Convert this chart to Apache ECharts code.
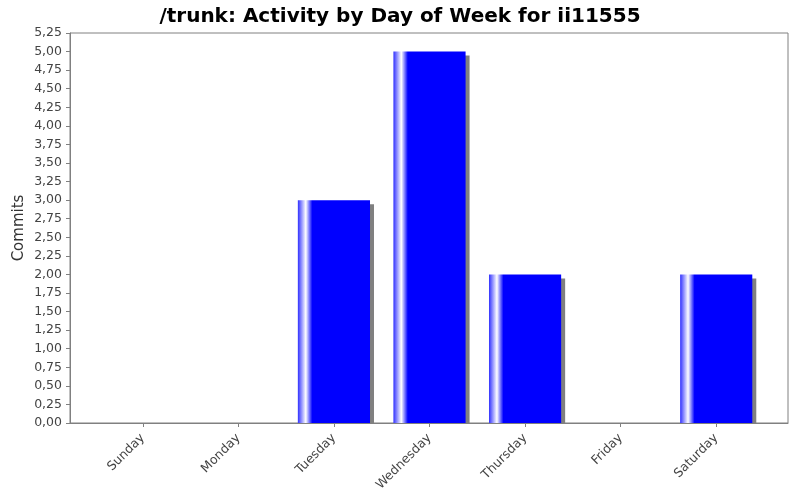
<!DOCTYPE html>
<html>
<head>
<meta charset="utf-8">
<script src="https://cdn.jsdelivr.net/npm/echarts@6/dist/echarts.min.js"></script>
<style>html,body{margin:0;padding:0;background:#fff}#c{width:800px;height:500px}</style>
</head>
<body>
<div id="c"></div>
<script>
var titleText = '/trunk: Activity by Day of Week for ii11555';
var yAxisName = 'Commits';
var categories = ['Sunday', 'Monday', 'Tuesday', 'Wednesday', 'Thursday', 'Friday', 'Saturday'];
var commits = [0, 0, 3, 5, 2, 0, 2];
var yMin = 0, yMax = 5.25, yStep = 0.25;

var chart = echarts.init(document.getElementById('c'), null, {renderer: 'canvas'});
var font = 'DejaVu Sans';
var barGrad = new echarts.graphic.LinearGradient(0, 0, 1, 0, [
  {offset: 0, color: '#3030ff'},
  {offset: 0.11, color: '#ffffff'},
  {offset: 0.2, color: '#0000ff'},
  {offset: 1, color: '#0000ff'}
]);
function renderBar(params, api) {
  var v = api.value(1);
  if (!v) return null;
  var top = api.coord([api.value(0), v]);
  var base = api.coord([api.value(0), 0]);
  var bw = api.size([1, 0])[0] * 0.755;
  var x = top[0] - bw / 2;
  var h = base[1] - top[1];
  return {
    type: 'group',
    children: [
      {type: 'rect', shape: {x: x + 4, y: top[1] + 4, width: bw, height: h - 4}, style: {fill: '#808080'}},
      {type: 'rect', shape: {x: x, y: top[1], width: bw, height: h}, style: {fill: barGrad}}
    ]
  };
}
chart.setOption({
  animation: false,
  backgroundColor: '#ffffff',
  title: {
    text: titleText, left: 'center', top: 2,
    textStyle: {fontFamily: font, fontWeight: 'bold', fontSize: 20, color: '#000'}
  },
  grid: [
    {left: 70, right: 12, top: 33, bottom: 77, show: true, borderColor: '#808080', borderWidth: 1, backgroundColor: '#ffffff'},
    {left: 95, right: 36, top: 33, bottom: 77}
  ],
  xAxis: [
    {type: 'value', gridIndex: 0, min: 0, max: 1, offset: 4,
     axisLine: {show: true, lineStyle: {color: '#808080', width: 1}},
     axisTick: {show: false}, axisLabel: {show: false}, splitLine: {show: false}},
    {type: 'category', gridIndex: 1, data: categories, offset: 4,
     axisLine: {show: false},
     axisTick: {show: true, alignWithLabel: true, length: 4, lineStyle: {color: '#808080'}},
     axisLabel: {rotate: 45, margin: 9, fontFamily: font, fontSize: 12.5, color: '#444444'}}
  ],
  yAxis: [
    {type: 'value', gridIndex: 0, min: yMin, max: yMax, interval: yStep, offset: 3,
     name: yAxisName, nameLocation: 'middle', nameGap: 40, nameMoveOverlap: false,
     nameTextStyle: {fontFamily: font, fontSize: 15, color: '#333333'},
     axisLine: {show: true, lineStyle: {color: '#808080', width: 1}},
     axisTick: {show: true, length: 4, lineStyle: {color: '#808080'}},
     axisLabel: {margin: 5, fontFamily: font, fontSize: 12.5, color: '#444444',
       formatter: function (v) { return v.toFixed(2).replace('.', ','); }},
     splitLine: {show: false}},
    {type: 'value', gridIndex: 1, min: yMin, max: yMax, show: false, splitLine: {show: false}}
  ],
  series: [{
    type: 'custom', xAxisIndex: 1, yAxisIndex: 1,
    data: commits.map(function (v, i) { return [i, v]; }),
    encode: {x: 0, y: 1},
    renderItem: renderBar
  }]
});
</script>
</body>
</html>
